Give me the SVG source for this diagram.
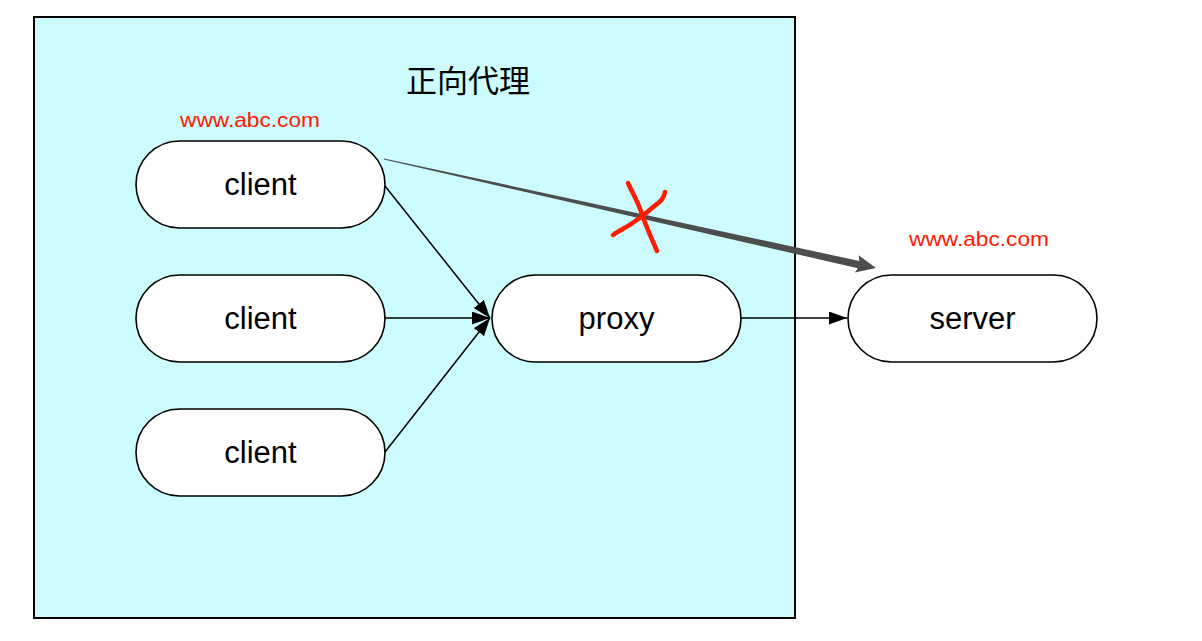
<svg xmlns="http://www.w3.org/2000/svg" width="1202" height="641" viewBox="0 0 1202 641">
<style>
.node{fill:#fff;stroke:#000;stroke-width:1.6}
.lbl{font-family:"Liberation Sans",Arial,sans-serif;font-size:31px;text-anchor:middle;fill:#000}
.url{font-family:"Liberation Sans",Arial,sans-serif;font-size:20px;fill:#ff1a00}
.edge{stroke:#000;stroke-width:1.5;fill:none}
</style>
<defs>
<marker id="ah" markerUnits="userSpaceOnUse" markerWidth="18" markerHeight="13" refX="18" refY="6.5" orient="auto">
<path d="M0,0 L18,6.5 L0,13 z" fill="#000"/>
</marker>
</defs>
<rect width="1202" height="641" fill="#fff"/>
<g id="container">
<rect x="34" y="17" width="761" height="601" fill="#ccfcfe" stroke="#000" stroke-width="2"/>
<text x="468" y="92" font-family="'Noto Sans CJK SC',sans-serif" font-size="31" text-anchor="middle" fill="#000">正向代理</text>
</g>
<g id="connectors">
<line class="edge" x1="385" y1="186" x2="490" y2="318" marker-end="url(#ah)"/>
<line class="edge" x1="385" y1="318" x2="490" y2="318" marker-end="url(#ah)"/>
<line class="edge" x1="385" y1="452" x2="490" y2="318" marker-end="url(#ah)"/>
<line class="edge" x1="741" y1="318" x2="847" y2="318" marker-end="url(#ah)"/>
<polygon points="384.1,158.4 859.4,261.0 858.6,255.3 876,268 854.9,272.6 857.9,268.2 383.9,159.6" fill="#4d4d4d"/>
</g>
<g id="client1">
<rect class="node" x="136" y="141" width="249" height="87" rx="43.5"/>
<text class="lbl" x="260.5" y="195">client</text>
</g>
<g id="client2">
<rect class="node" x="136" y="275" width="249" height="87" rx="43.5"/>
<text class="lbl" x="260.5" y="329">client</text>
</g>
<g id="client3">
<rect class="node" x="136" y="409" width="249" height="87" rx="43.5"/>
<text class="lbl" x="260.5" y="463">client</text>
</g>
<g id="proxy">
<rect class="node" x="492" y="275" width="249" height="87" rx="43.5"/>
<text class="lbl" x="616.5" y="329">proxy</text>
</g>
<g id="server">
<rect class="node" x="848" y="275" width="249" height="87" rx="43.5"/>
<text class="lbl" x="972.5" y="329">server</text>
</g>
<g id="labels">
<text class="url" x="180" y="127" textLength="140" lengthAdjust="spacingAndGlyphs">www.abc.com</text>
<text class="url" x="909" y="246" textLength="140" lengthAdjust="spacingAndGlyphs">www.abc.com</text>
</g>
<g id="cross" fill="none" stroke="#ff1a00" stroke-width="4.5" stroke-linecap="round" stroke-linejoin="round">
<path d="M628,183 C634,196 640,206 642,215 C647,228 652,240 657,251"/>
<path d="M613,235 C620,230 627,227 634,222 C640,218 645,214 652,208 C658,203 664,200 665,192"/>
</g>
</svg>
